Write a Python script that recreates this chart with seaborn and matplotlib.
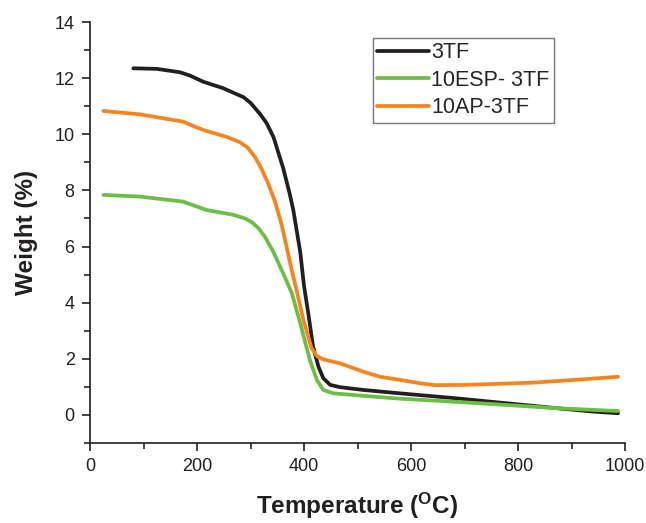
import matplotlib
matplotlib.use("Agg")
import matplotlib.pyplot as plt
from matplotlib.ticker import MultipleLocator
import seaborn as sns
import pandas as pd

# TGA curves: temperature (°C) vs residual weight (%)
temp_3tf = [81, 125, 168, 187, 212, 249, 287, 300, 318, 330, 343, 361, 373, 380, 393,
            400, 408, 417, 427, 436, 449, 467, 511, 579, 680, 766, 873, 940, 987]
weight_3tf = [12.35, 12.33, 12.21, 12.09, 11.87, 11.64, 11.32, 11.12, 10.72, 10.40, 9.90,
              8.80, 7.90, 7.30, 5.80, 4.60, 3.62, 2.43, 1.72, 1.31, 1.07, 0.99, 0.89,
              0.77, 0.60, 0.44, 0.24, 0.12, 0.06]

temp_esp = [25, 93, 174, 196, 218, 268, 290, 303, 315, 327, 343, 361, 377, 393, 411,
            424, 436, 455, 511, 579, 680, 766, 873, 940, 987]
weight_esp = [7.84, 7.78, 7.60, 7.45, 7.30, 7.13, 7.00, 6.86, 6.65, 6.35, 5.80, 5.05,
              4.35, 3.27, 1.96, 1.25, 0.89, 0.77, 0.68, 0.58, 0.47, 0.37, 0.24, 0.18,
              0.14]

temp_ap = [25, 93, 174, 195, 212, 255, 280, 295, 308, 320, 333, 345, 358, 377, 386,
           399, 414, 424, 436, 467, 511, 542, 579, 620, 645, 700, 828, 922, 987]
weight_ap = [10.83, 10.71, 10.45, 10.28, 10.15, 9.91, 9.72, 9.52, 9.20, 8.80, 8.25, 7.65,
             6.80, 5.17, 4.45, 3.38, 2.38, 2.10, 1.98, 1.84, 1.54, 1.36, 1.25, 1.12,
             1.06, 1.07, 1.15, 1.27, 1.36]

series_names = ["3TF", "10ESP- 3TF", "10AP-3TF"]
series_colors = ["#231f20", "#6cbf45", "#f7841f"]

frames = []
for name, t, w in zip(series_names,
                      [temp_3tf, temp_esp, temp_ap],
                      [weight_3tf, weight_esp, weight_ap]):
    frames.append(pd.DataFrame({"Temperature": t, "Weight": w, "Sample": name}))
data = pd.concat(frames, ignore_index=True)

sns.set_theme(style="ticks")
plt.rcParams["font.family"] = ["Liberation Sans", "DejaVu Sans"]
plt.rcParams["mathtext.fontset"] = "custom"
plt.rcParams["mathtext.bf"] = "Liberation Sans:bold"
plt.rcParams["mathtext.rm"] = "Liberation Sans"

fig = plt.figure(figsize=(6.46, 5.23), dpi=100)
ax = fig.add_axes([90 / 646, 80 / 523, 535 / 646, 421 / 523])

sns.lineplot(data=data, x="Temperature", y="Weight", hue="Sample",
             hue_order=series_names, palette=series_colors, sort=True,
             linewidth=2.7, ax=ax, estimator=None)
for line in ax.get_lines():
    line.set_solid_joinstyle("round")
    line.set_solid_capstyle("round")

ax.set_xlim(0, 1000)
ax.set_ylim(-1, 14)
ax.xaxis.set_major_locator(MultipleLocator(200))
ax.xaxis.set_minor_locator(MultipleLocator(100))
ax.yaxis.set_major_locator(MultipleLocator(2))
ax.yaxis.set_minor_locator(MultipleLocator(1))
ax.tick_params(axis="both", which="major", direction="out", length=6, width=1.2,
               labelsize=13, colors="#231f20", pad=5)
ax.tick_params(axis="both", which="minor", direction="out", length=4, width=1.2)
for side in ("top", "right"):
    ax.spines[side].set_visible(False)
for side in ("left", "bottom"):
    ax.spines[side].set_linewidth(1.2)
    ax.spines[side].set_color("#231f20")

ax.set_xlabel(r"Temperature ($\mathbf{^{O}}$C)", fontsize=17.5, fontweight="bold",
              labelpad=11, color="#231f20")
ax.set_ylabel("Weight (%)", fontsize=17.5, fontweight="bold", labelpad=12,
              color="#231f20")

leg = ax.legend(loc="upper left", bbox_to_anchor=(0.529, 0.962), borderaxespad=0,
                fancybox=False, frameon=True, edgecolor="#555555", fontsize=15.5,
                handlelength=2.4, handletextpad=0.1, labelspacing=0.3,
                borderpad=0.2, title=None)
leg.get_frame().set_linewidth(1.0)
for line in leg.get_lines():
    line.set_linewidth(2.7)

fig.savefig("out.png", dpi=100)
